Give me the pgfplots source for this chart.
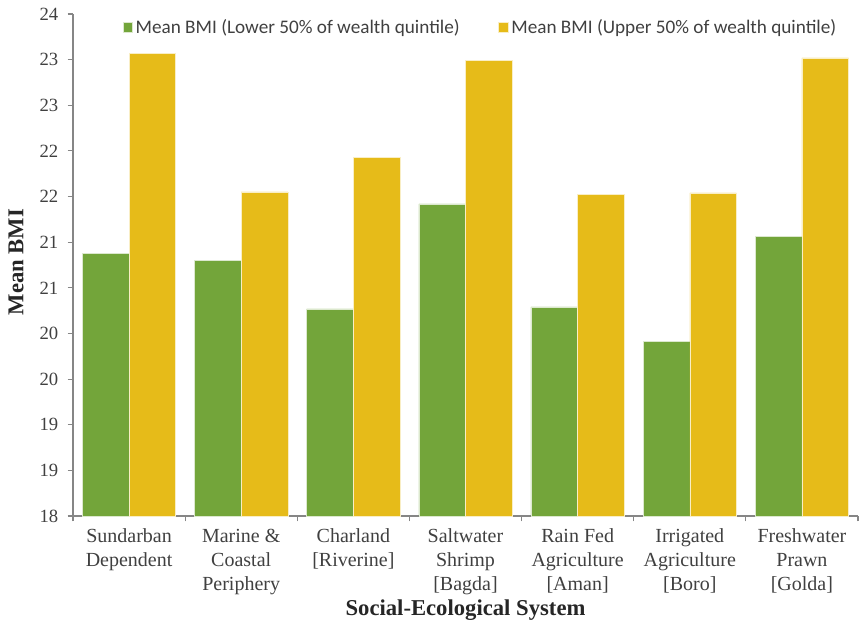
\documentclass[border=0pt]{standalone}
\usepackage{pgfplots}
\pgfplotsset{compat=1.18}
\usepackage{fontspec}
\setmainfont{Liberation Serif}
\newfontfamily\legfont{Carlito}
\definecolor{barG}{RGB}{115,165,58}
\definecolor{barY}{RGB}{230,187,25}
\definecolor{axgray}{RGB}{134,134,134}
\definecolor{txt}{RGB}{64,64,64}
\begin{document}
\begin{tikzpicture}
\path[use as bounding box] (0,0) rectangle (644.25pt,469.5pt);
\begin{axis}[
  at={(54.75pt,82.5pt)}, anchor=south west,
  scale only axis, width=588.75pt, height=376.5pt,
  ybar=0pt, bar width=35pt,
  xmin=-0.5, xmax=6.5, ymin=18, ymax=23.5,
  axis x line*=bottom, axis y line*=left,
  axis line style={draw=axgray, line width=0.8pt},
  tick align=outside,
  xtick={0,...,6},
  xticklabels={{Sundarban\\Dependent},{Marine \&\\Coastal\\Periphery},{Charland\\{[Riverine]}},{Saltwater\\Shrimp\\{[Bagda]}},{Rain Fed\\Agriculture\\{[Aman]}},{Irrigated\\Agriculture\\{[Boro]}},{Freshwater\\Prawn\\{[Golda]}}},
  every major x tick/.style={draw=none},
  minor xtick={-0.5,0.5,...,6.5},
  every minor x tick/.style={draw=axgray, line width=0.8pt},
  minor tick length=4pt,
  major tick length=4pt,
  every major y tick/.style={draw=axgray, line width=0.8pt},
  ytick={18,18.5,...,23.5},
  yticklabels={18,19,19,20,20,21,21,22,22,23,23,24},
  yticklabel style={font=\fontsize{14}{16}\selectfont, text=txt, xshift=-3.5pt},
  xticklabel style={font=\fontsize{15}{18}\selectfont, text=txt, align=center, anchor=north, yshift=-2pt},
  xlabel={Social-Ecological System},
  ylabel={Mean BMI},
  every axis x label/.style={at={(axis description cs:0.5,-0.187)}, anchor=center, font=\bfseries\fontsize{17}{20}\selectfont, text=black!85},
  every axis y label/.style={at={(axis description cs:-0.0726,0.506)}, rotate=90, anchor=center, font=\bfseries\fontsize{17}{20}\selectfont, text=black!85},
  legend columns=2,
  legend style={at={(axis description cs:0.063,0.974)}, anchor=west, draw=none, fill=none, inner sep=0pt,
    font=\legfont\fontsize{14.4}{16}\selectfont, text=txt,
    /tikz/every even column/.append style={column sep=27pt}},
  legend image code/.code={\fill[#1] (0pt,-3.8pt) rectangle (7.3pt,3.8pt);},
]
\addplot[fill=barG, draw=white!75!barG, line width=0.4pt] coordinates {(0,20.88) (1,20.80) (2,20.27) (3,21.42) (4,20.29) (5,19.91) (6,21.06)};
\addplot[fill=barY, draw=white!75!barY, line width=0.4pt] coordinates {(0,23.07) (1,21.55) (2,21.93) (3,22.99) (4,21.52) (5,21.54) (6,23.02)};
\legend{Mean BMI (Lower 50\% of wealth quintile),Mean BMI (Upper 50\% of wealth quintile)}
\end{axis}
\end{tikzpicture}
\end{document}
